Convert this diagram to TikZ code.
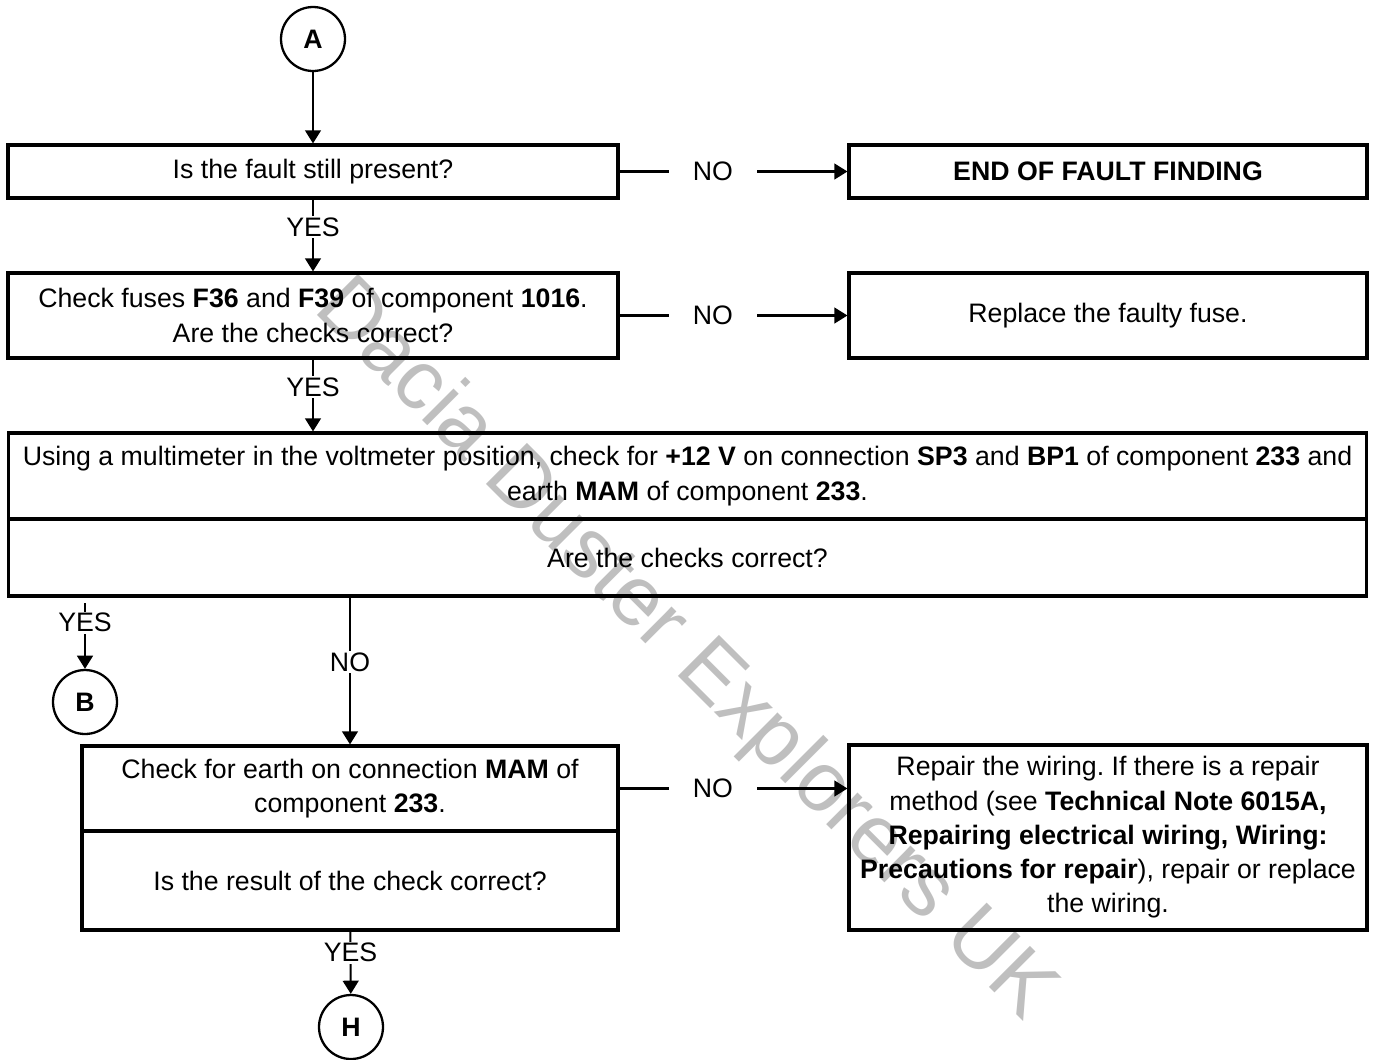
\documentclass[tikz,border=0pt]{standalone}
\usepackage{fontspec}
\setmainfont{Liberation Sans}
\usetikzlibrary{positioning,arrows.meta}

\tikzset{
  box/.style={draw, line width=1.8pt, align=center, inner sep=2pt},
  conn/.style={line width=1.2pt},
  arr/.style={conn, -{Triangle[length=7.5pt,width=9pt]}},
  tag/.style={fill=white, inner sep=1pt},
  notag/.style={fill=white, inner ysep=1pt, inner xsep=0.48cm},
  ring/.style={draw, circle, line width=1.3pt, minimum size=1.28cm, inner sep=0pt, font=\bfseries},
}

\begin{document}
\frenchspacing
\begin{tikzpicture}[x=0.02cm, y=-0.02cm]
\fontsize{15.2}{19.5}\selectfont
\useasboundingbox (0,0) rectangle (1373,1059);

% watermark
\node[text=black!25, rotate=-45, anchor=base west, inner sep=0pt, font=\fontsize{48}{48}\selectfont] (mark) at (312,310) {Dacia Duster Explorers UK};

% left column
\node[ring] (a) at (313,39) {A};
\node[box, minimum width=12.2cm, minimum height=1.06cm] (q1) at (313,171.5) {Is the fault still present?};
\node[box, minimum width=12.2cm, minimum height=1.7cm] (q2) at (313,315.5)
  {Check fuses \textbf{F36} and \textbf{F39} of component \textbf{1016}.\\ Are the checks correct?};
\node[box, minimum width=27.18cm, minimum height=1.72cm] (c3t) at (687.5,476)
  {Using a multimeter in the voltmeter position, check for \textbf{+12 V} on connection \textbf{SP3} and \textbf{BP1} of component \textbf{233} and\\
   earth \textbf{MAM} of component \textbf{233}.};
\node[box, minimum width=27.18cm, minimum height=1.54cm, below=-1.8pt of c3t] (c3b) {Are the checks correct?};
\node[ring] (b) at (85,702) {B};
\node[box, minimum width=10.72cm, minimum height=1.7cm] (c4t) at (350,788.5)
  {Check for earth on connection \textbf{MAM} of\\ component \textbf{233}.};
\node[box, minimum width=10.72cm, minimum height=1.98cm, below=-1.8pt of c4t] (c4b) {Is the result of the check correct?};
\node[ring] (h) at (351,1027) {H};

% right column
\node[box, minimum width=10.36cm, minimum height=1.06cm] (end) at (1108,171.5) {\bfseries END OF FAULT FINDING};
\node[box, minimum width=10.36cm, minimum height=1.7cm] (fuse) at (1108,315.5) {Replace the faulty fuse.};
\node[box, minimum width=10.36cm, minimum height=3.7cm] (fix) at (1108,837.5)
  {Repair the wiring. If there is a repair\\
   method (see \textbf{Technical Note 6015A,}\\
   \textbf{Repairing electrical wiring, Wiring:}\\
   \textbf{Precautions for repair}), repair or replace\\
   the wiring.};

\coordinate (yb) at (85,603);

% connectors
\draw[arr] (a) -- (q1);
\draw[arr] (q1) -- node[tag, pos=0.38]{YES} (q2);
\draw[arr] (q2) -- node[tag, pos=0.38]{YES} (q2.south |- c3t.north);
\draw[arr] (yb) -- node[tag, pos=0.3]{YES} (b);
\draw[arr] (c3b.south -| c4t.north) -- node[tag, pos=0.44]{NO} (c4t);
\draw[arr] (c4b) -- node[tag, pos=0.34]{YES} (h);
\draw[arr] (q1) -- node[notag, pos=0.41]{NO} (end);
\draw[arr] (q2) -- node[notag, pos=0.41]{NO} (fuse);
\draw[arr] (c4t) -- node[notag, pos=0.41]{NO} (c4t.east -| fix.west);
\end{tikzpicture}
\end{document}
